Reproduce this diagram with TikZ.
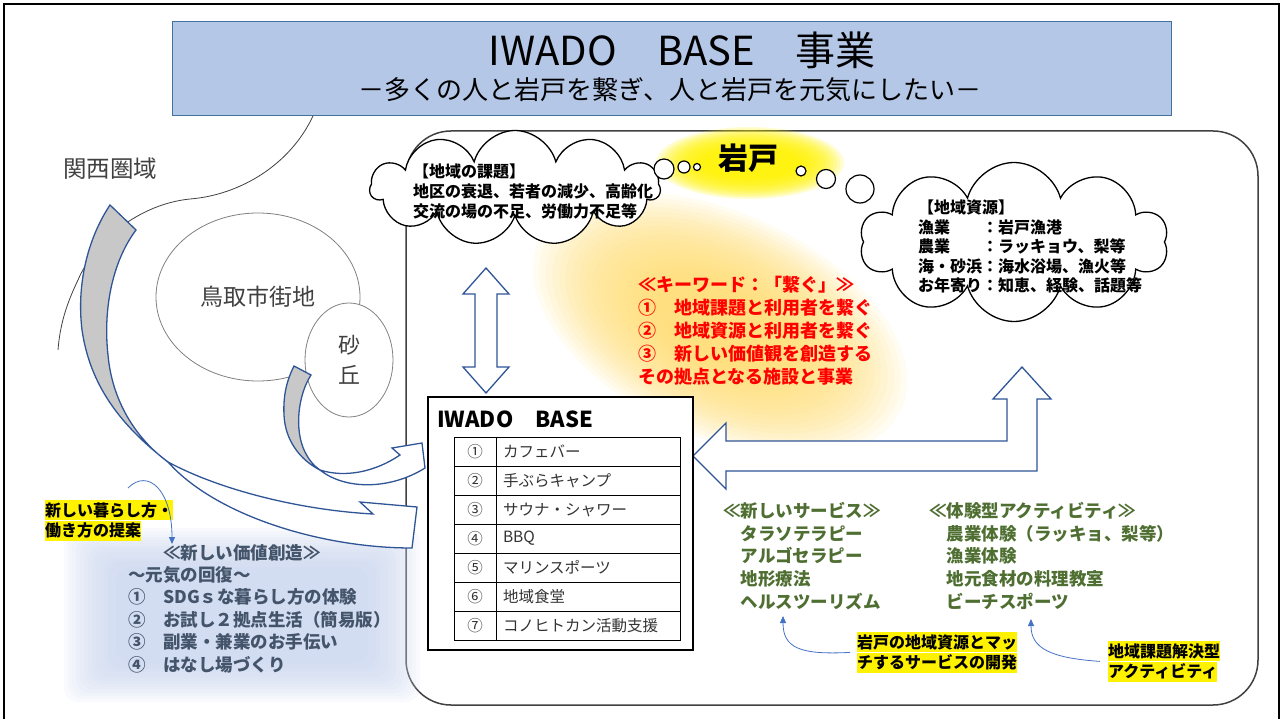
\documentclass[tikz,border=0pt]{standalone}
\usepackage{fontspec}
\setmainfont{Noto Sans CJK JP}
\usetikzlibrary{shapes.symbols,shapes.geometric,arrows.meta,positioning}
\definecolor{titlefill}{HTML}{B4C7E7}
\definecolor{titleline}{HTML}{41719C}
\definecolor{arrline}{HTML}{2F5597}
\definecolor{arrgray}{HTML}{C8C8C8}
\definecolor{glowyellow}{HTML}{FFF200}
\definecolor{gloworange}{HTML}{FFD966}
\definecolor{keyred}{HTML}{FF0000}
\definecolor{svcgreen}{HTML}{4F6F32}
\definecolor{newblue}{HTML}{44546A}
\definecolor{bluefog}{HTML}{C9D5EE}
\definecolor{framegray}{HTML}{404040}
\definecolor{pinblue}{HTML}{4472C4}
\newcommand{\fsz}[2]{\fontsize{#1}{#2}\selectfont}

\begin{document}
\begin{tikzpicture}[x=1pt,y=-1pt,
    blk/.style={draw=arrline, line width=1.3pt},
    hl/.style={fill=yellow, inner sep=0pt, minimum height=20pt, anchor=north west, font=\bfseries\fsz{16}{20}},
    pin/.style={draw=pinblue, line width=0.8pt, -{Triangle[length=7pt,width=6pt]}},
    cell/.style={draw, line width=1pt, minimum height=29pt, inner sep=0pt, font=\fsz{15.5}{18}, text=black!80},
    thought/.style={draw, line width=1.2pt, fill=white},
    puff/.style={cloud, draw, line width=1.3pt, fill=white, cloud ignores aspect, inner sep=0pt}]
  \useasboundingbox (0,0) rectangle (1283,719);
  \draw[line width=2.5pt] (4,719) -- (4,4) -- (1279,4) -- (1279,719);

  \node[draw=titleline, fill=titlefill, line width=1pt, minimum width=999, minimum height=94, inner sep=0] (title) at (671.5,69) {};
  \node[font=\fsz{40}{40}] (titletext) at (682,50) {IWADO　BASE　事業};
  \node[font=\fsz{26}{26}] (subtitle) at (670,90) {－多くの人と岩戸を繋ぎ、人と岩戸を元気にしたい－};

  \draw[framegray, line width=0.8pt] (313,116) .. controls (290,165) and (240,195) .. (190,199)
    .. controls (140,204) and (95,240) .. (78,280) .. controls (66,305) and (60,325) .. (58,350);
  \node[font=\fsz{23.5}{24}, text=framegray] (kansai) at (110,169) {関西圏域};
  \node[ellipse, draw=black!50, line width=0.8pt, minimum width=204, minimum height=168, font=\fsz{23}{24}, text=framegray] (city) at (258,297) {鳥取市街地};
  \node[ellipse, draw=black!50, fill=white, line width=0.8pt, minimum width=88, minimum height=114, align=center, font=\fsz{22}{30}, text=framegray] (dune) at (349,360) {砂\\丘};

  \draw[framegray, line width=1.5pt, rounded corners=45] (406,131) rectangle (1258,705);

  \foreach \k in {0,...,19}
    \fill[gloworange, opacity=0.085, rotate around={-25:(720,325)}] (720,325) ellipse ({200-7*\k} and {112-4*\k});
  \foreach \k in {0,...,13}
    \fill[glowyellow, opacity=0.17] (750,163) ellipse ({94-3.5*\k} and {36-1.6*\k});
  \foreach \k in {0,...,13}
    \fill[bluefog, opacity=0.11, rounded corners=14] ({64+4*\k},{528+3*\k}) rectangle ({420-4*\k},{702-3*\k});

  \filldraw[blk, fill=arrgray] (110,205) -- (136,230) .. controls (112,262) and (103,310) .. (108,355)
    .. controls (112,400) and (135,438) .. (168,462) .. controls (120,425) and (90,385) .. (82,330)
    .. controls (76,280) and (90,235) .. (110,205) -- cycle;
  \filldraw[blk, fill=white] (168,462) .. controls (220,490) and (300,510) .. (373,514) -- (360,502)
    -- (417,507) -- (412,548) .. controls (320,548) and (215,515) .. (168,462) -- cycle;
  \filldraw[blk, fill=arrgray] (294,366) -- (311,375) .. controls (298,395) and (294,430) .. (305,452)
    .. controls (309,460) and (314,466) .. (320,470) .. controls (300,460) and (285,440) .. (284,415)
    .. controls (283,395) and (287,380) .. (294,366) -- cycle;
  \filldraw[blk, fill=white] (320,470) .. controls (345,478) and (375,472) .. (400,455) -- (392,448)
    -- (422,443) -- (425,468) .. controls (390,490) and (345,490) .. (320,470) -- cycle;

  \node[puff, cloud puffs=11, minimum width=290, minimum height=115] (issue) at (515,188) {};
  \node[puff, cloud puffs=10, minimum width=308, minimum height=159] (resource) at (1014,242) {};
  \draw[thought] (664,169) circle (10);
  \draw[thought] (684,167) circle (6);
  \draw[thought] (697,167) circle (3.5);
  \draw[thought] (801,171) circle (5);
  \draw[thought] (826,179) circle (9.5);
  \draw[thought] (860,189) circle (14);
  \node[font=\bfseries\fsz{30}{30}] (iwado) at (748,158) {岩戸};

  \node[anchor=north west, align=left, inner sep=0, font=\bfseries\fsz{16}{20}] (issuetext) at (413,164)
    {【地域の課題】\\地区の衰退、若者の減少、高齢化\\交流の場の不足、労働力不足等};
  \node[anchor=north west, align=left, inner sep=0, font=\bfseries\fsz{16}{19.5}] (restext) at (918,200)
    {【地域資源】\\漁業　　：岩戸漁港\\農業　　：ラッキョウ、梨等\\海・砂浜：海水浴場、漁火等\\お年寄り：知恵、経験、話題等};

  \node[anchor=north west, align=left, inner sep=0, text=keyred, font=\bfseries\fsz{18}{23}] (keyword) at (638,276)
    {≪キーワード：「繋ぐ」≫\\①　地域課題と利用者を繋ぐ\\②　地域資源と利用者を繋ぐ\\③　新しい価値観を創造する\\その拠点となる施設と事業};

  \draw[blk, fill=white] (486,268) -- (509,294) -- (497,294) -- (497,367) -- (509,367) -- (486,393)
    -- (463,367) -- (475,367) -- (475,294) -- (463,294) -- cycle;
  \draw[blk, fill=white] (693,456) -- (726,423) -- (726,441) -- (1007,441) -- (1007,399) -- (993,399)
    -- (1022,367) -- (1051,399) -- (1037,399) -- (1037,471) -- (726,471) -- (726,489) -- cycle;

  \node[draw, fill=white, line width=1.2pt, minimum width=265, minimum height=253, inner sep=0] (base) at (560.5,523.5) {};
  \node[anchor=west, inner sep=0, font=\bfseries\fsz{22}{22}] (basetitle) at (437,419) {IWADO　BASE};
  \foreach \n/\t [count=\i] in {①/カフェバー, ②/手ぶらキャンプ, ③/サウナ・シャワー, ④/BBQ,
      ⑤/マリンスポーツ, ⑥/地域食堂, ⑦/コノヒトカン活動支援} {
    \node[cell, minimum width=42] (num\i) at (475,{451.5+29*(\i-1)}) {\n};
    \node[cell, text width=170, align=left, inner xsep=7pt] (item\i) at (588,{451.5+29*(\i-1)}) {\t};
  }

  \node[anchor=north west, align=left, inner sep=0, text=svcgreen, font=\bfseries\fsz{17.5}{22.7}] (service) at (723,502)
    {≪新しいサービス≫\\　タラソテラピー\\　アルゴセラピー\\　地形療法\\　ヘルスツーリズム};
  \node[anchor=north west, align=left, inner sep=0, text=svcgreen, font=\bfseries\fsz{17.5}{22.7}] (activity) at (929,502)
    {≪体験型アクティビティ≫\\　農業体験（ラッキョ、梨等）\\　漁業体験\\　地元食材の料理教室\\　ビーチスポーツ};

  \node[anchor=north west, align=left, inner sep=0, text=newblue, font=\bfseries\fsz{17.5}{22.4}] (newvalue) at (128,544)
    {　　≪新しい価値創造≫\\～元気の回復～\\①　SDGｓな暮らし方の体験\\②　お試し２拠点生活（簡易版）\\③　副業・兼業のお手伝い\\④　はなし場づくり};

  \node[hl] (srva) at (857,632) {岩戸の地域資源とマッ};
  \node[hl] (srvb) at (srva.south west) {チするサービスの開発};
  \node[hl] (acta) at (1108,641) {地域課題解決型};
  \node[hl] (actb) at (acta.south west) {アクティビティ};
  \node[hl] (lifea) at (45,500) {新しい暮らし方・};
  \node[hl] (lifeb) at (lifea.south west) {働き方の提案};

  \coordinate (srvtip) at (783,616);
  \coordinate (acttip) at (1031,619);
  \coordinate (lifestart) at (128,488);
  \coordinate (lifetip) at (172,544);
  \draw[pin] ([xshift=-7pt]srva.south west) .. controls (800,655) and (783,648) .. (srvtip);
  \draw[pin] ([xshift=-8pt]acta.south west) .. controls (1050,658) and (1031,648) .. (acttip);
  \draw[pin] (lifestart) .. controls (148,468) and (172,490) .. (lifetip);
\end{tikzpicture}
\end{document}
